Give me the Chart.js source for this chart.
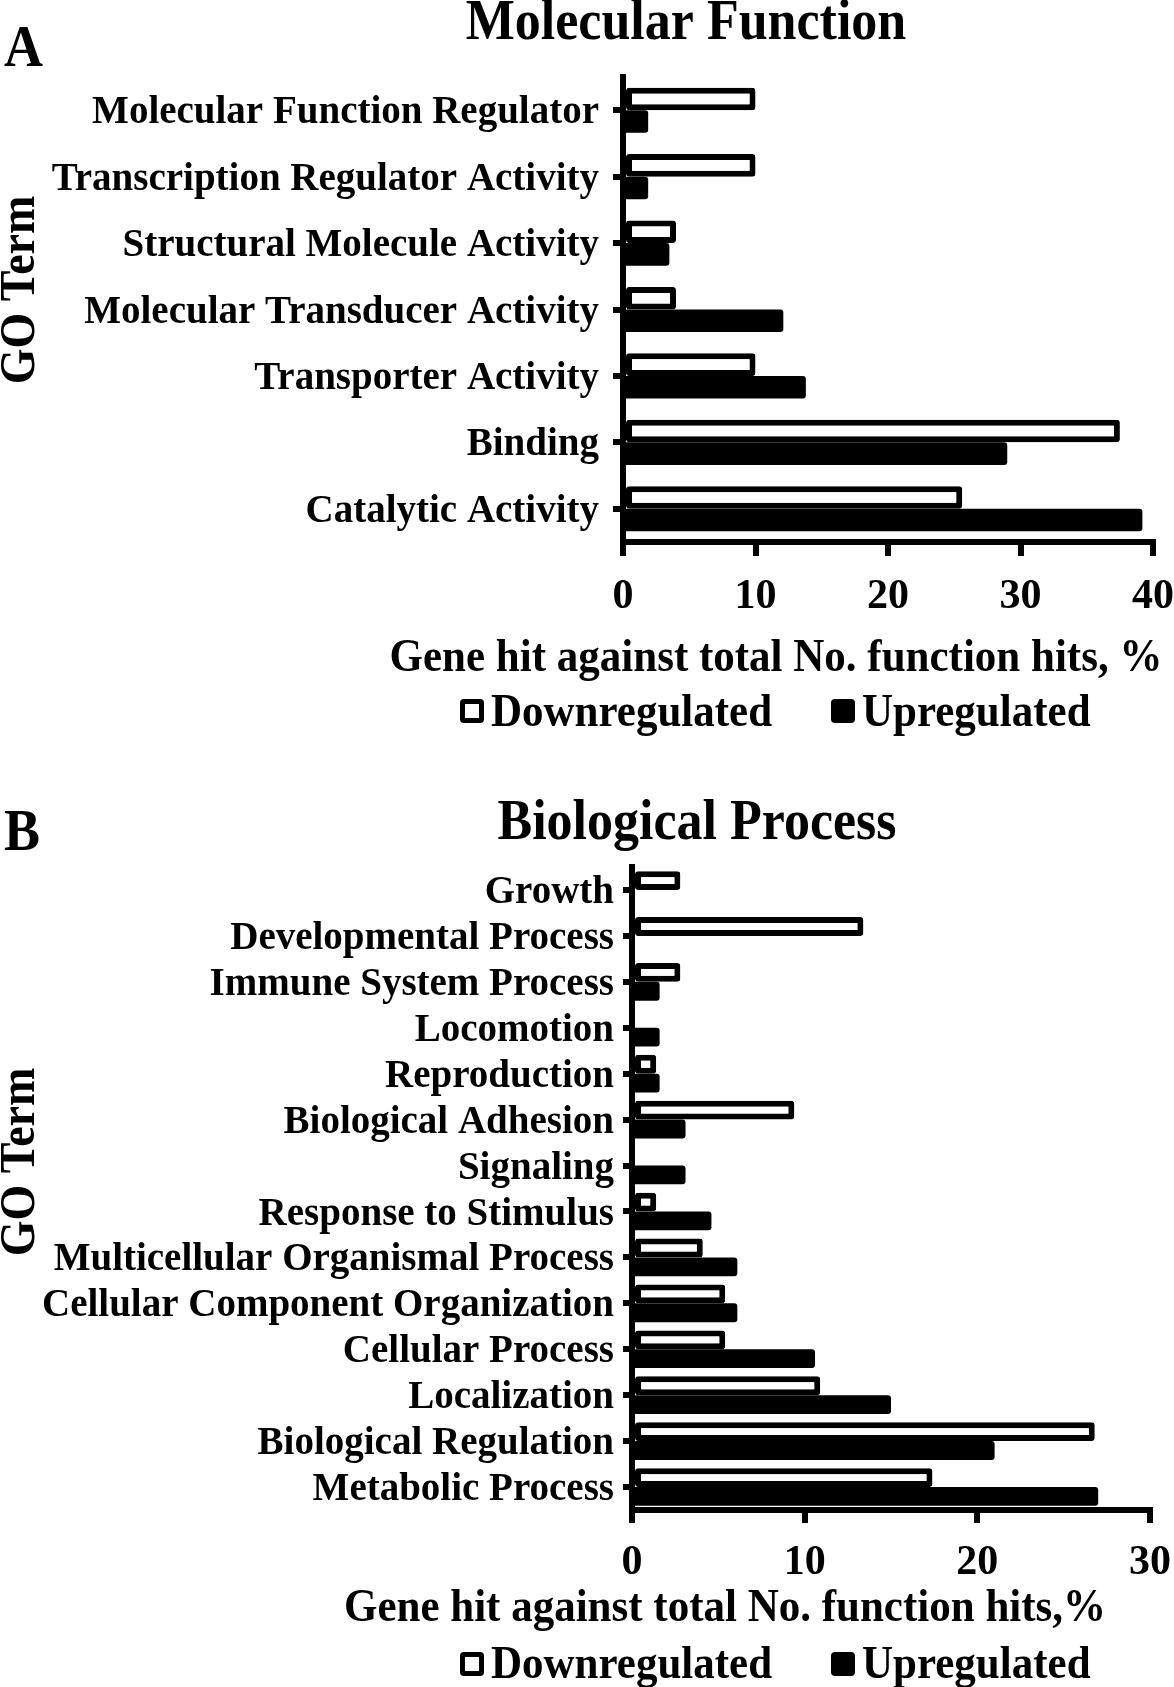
<!DOCTYPE html>
<html><head><meta charset="utf-8">
<script src="https://cdn.jsdelivr.net/npm/chart.js@4.4.0/dist/chart.umd.min.js"></script>
<style>
html,body{margin:0;padding:0;background:#fff;}
#wrap{position:relative;width:1174px;height:1687px;overflow:hidden;background:#fff;}
canvas{position:absolute;left:0;}
#cA{top:0;} #cB{top:760px;}
</style></head><body>
<div id="wrap"><canvas id="cA" width="1174" height="760"></canvas><canvas id="cB" width="1174" height="927"></canvas></div>
<script>
// ---------- data ----------
const seriesLabels = ['Downregulated', 'Upregulated'];

const mfCategories = ['Molecular Function Regulator', 'Transcription Regulator Activity', 'Structural Molecule Activity',
  'Molecular Transducer Activity', 'Transporter Activity', 'Binding', 'Catalytic Activity'];
const mfDown = [10.0, 10.0, 4.0, 4.0, 10.0, 37.5, 25.6];
const mfUp   = [1.9, 1.9, 3.5, 12.1, 13.8, 29.0, 39.2];
const mfTicks = [0, 10, 20, 30, 40];

const bpCategories = ['Growth', 'Developmental Process', 'Immune System Process', 'Locomotion', 'Reproduction',
  'Biological Adhesion', 'Signaling', 'Response to Stimulus', 'Multicellular Organismal Process',
  'Cellular Component Organization', 'Cellular Process', 'Localization', 'Biological Regulation', 'Metabolic Process'];
const bpDown = [2.8, 13.4, 2.8, 0, 1.4, 9.4, 0, 1.4, 4.1, 5.4, 5.4, 10.9, 26.8, 17.4];
const bpUp   = [0, 0, 1.6, 1.6, 1.6, 3.1, 3.1, 4.6, 6.1, 6.1, 10.6, 15.0, 21.0, 27.0];
const bpTicks = [0, 10, 20, 30];

// ---------- drawing ----------
const FONT = '"Liberation Serif", "Times New Roman", Times, serif';

function rrect(ctx, x, y, w, h, r) {
  ctx.beginPath();
  ctx.moveTo(x + r, y);
  ctx.lineTo(x + w - r, y); ctx.quadraticCurveTo(x + w, y, x + w, y + r);
  ctx.lineTo(x + w, y + h - r); ctx.quadraticCurveTo(x + w, y + h, x + w - r, y + h);
  ctx.lineTo(x + r, y + h); ctx.quadraticCurveTo(x, y + h, x, y + h - r);
  ctx.lineTo(x, y + r); ctx.quadraticCurveTo(x, y, x + r, y);
  ctx.closePath();
}

// draw text slightly stretched vertically, like the reference typesetting
function tallText(ctx, txt, x, y, sy) {
  ctx.save();
  ctx.translate(x, y);
  ctx.scale(1, sy);
  ctx.fillText(txt, 0, 0);
  ctx.restore();
}

const panelText = {
  id: 'panelText',
  afterDraw(chart, args, o) {
    const ctx = chart.ctx;
    const sy = o.stretch;
    ctx.save();
    ctx.fillStyle = '#000';
    ctx.textBaseline = 'alphabetic';
    ctx.font = `bold ${o.letterSize}px ${FONT}`;
    ctx.textAlign = 'left';
    tallText(ctx, o.letter, o.letterX, o.letterY, sy);
    ctx.font = `bold ${o.titleSize}px ${FONT}`;
    ctx.textAlign = 'center';
    tallText(ctx, o.title, o.titleX, o.titleY, sy);
    ctx.font = `bold ${o.axisSize}px ${FONT}`;
    tallText(ctx, o.xTitle, o.xTitleX, o.xTitleY, sy);
    ctx.save();
    ctx.translate(o.yTitleX, o.yTitleY);
    ctx.rotate(-Math.PI / 2);
    ctx.font = `bold ${o.yTitleSize}px ${FONT}`;
    tallText(ctx, o.yTitle, 0, 0, sy);
    ctx.restore();
    ctx.font = `bold ${o.legendSize}px ${FONT}`;
    ctx.textAlign = 'left';
    chart.data.datasets.forEach((ds, i) => {
      const bx = o.legendX[i], by = o.legendBoxY, s = o.legendBox;
      ctx.fillStyle = '#000';
      rrect(ctx, bx, by, s, s, 4);
      ctx.fill();
      if (ds.backgroundColor === '#fff') {
        ctx.fillStyle = '#fff';
        ctx.fillRect(bx + 5, by + 5, s - 10, s - 10);
      }
      ctx.fillStyle = '#000';
      tallText(ctx, ds.label, bx + s + o.legendGap, o.legendTextY, sy);
    });
    ctx.restore();
  }
};

function makeChart(canvas, cats, down, up, ticks, xmax, cfg) {
  return new Chart(canvas, {
    type: 'bar',
    data: {
      labels: cats,
      datasets: [
        { label: seriesLabels[0], data: down, backgroundColor: '#fff', borderColor: '#000', borderWidth: 6,
          borderSkipped: false, borderRadius: 3, barPercentage: 1, categoryPercentage: cfg.cp },
        { label: seriesLabels[1], data: up, backgroundColor: '#000', borderColor: '#000', borderWidth: 0,
          borderRadius: 3, barPercentage: 1, categoryPercentage: cfg.cp }
      ]
    },
    options: {
      indexAxis: 'y', responsive: false, animation: false, devicePixelRatio: 1,
      layout: { padding: { top: cfg.top, right: cfg.right, bottom: cfg.bottom, left: 0 } },
      plugins: { legend: { display: false }, title: { display: false }, tooltip: { enabled: false }, panelText: cfg.text },
      scales: {
        x: {
          type: 'linear', min: 0, max: xmax,
          afterBuildTicks: s => { s.ticks = ticks.map(v => ({ value: v })); },
          afterFit: s => { s.height = cfg.xh; s.paddingLeft = 0; s.paddingRight = 0; },
          grid: { display: true, drawOnChartArea: false, drawTicks: true, tickLength: cfg.xtl, lineWidth: 6, tickWidth: 6, color: '#000' },
          border: { display: true, color: '#000', width: 6 },
          ticks: { font: { size: 42, weight: 'bold', family: FONT }, color: '#000', padding: cfg.xpad, maxRotation: 0, autoSkip: false }
        },
        y: {
          z: 1,
          afterFit: s => { s.width = cfg.yw; s.paddingTop = 0; s.paddingBottom = 0; },
          grid: { display: true, offset: false, drawOnChartArea: false, drawTicks: true, tickLength: cfg.ytl, lineWidth: 6, tickWidth: 6, color: '#000' },
          border: { display: true, color: '#000', width: 6 },
          ticks: { font: { size: 39, weight: 'bold', family: FONT }, color: '#000', padding: cfg.ypad, labelOffset: 3, autoSkip: false }
        }
      }
    },
    plugins: [panelText]
  });
}

makeChart(document.getElementById('cA'), mfCategories, mfDown, mfUp, mfTicks, 40, {
  cp: 0.68, top: 77, right: 21, bottom: 118, xh: 100, yw: 623, xtl: 14, xpad: 16, ytl: 10, ypad: 14,
  text: {
    stretch: 1.08,
    letter: 'A', letterSize: 54, letterX: 4, letterY: 66,
    title: 'Molecular Function', titleSize: 52, titleX: 686, titleY: 39,
    xTitle: 'Gene hit against total No. function hits, %', axisSize: 43, xTitleX: 776, xTitleY: 671,
    yTitle: 'GO Term', yTitleSize: 46, yTitleX: 34, yTitleY: 290,
    legendSize: 43, legendX: [460, 831], legendBoxY: 699, legendBox: 24, legendGap: 7, legendTextY: 726
  }
});

makeChart(document.getElementById('cB'), bpCategories, bpDown, bpUp, bpTicks, 30, {
  cp: 0.82, top: 107, right: 24, bottom: 77, xh: 100, yw: 632, xtl: 13, xpad: 15, ytl: 9, ypad: 9,
  text: {
    stretch: 1.08,
    letter: 'B', letterSize: 54, letterX: 4, letterY: 90,
    title: 'Biological Process', titleSize: 52, titleX: 697, titleY: 79,
    xTitle: 'Gene hit against total No. function hits,%', axisSize: 43, xTitleX: 725, xTitleY: 861,
    yTitle: 'GO Term', yTitleSize: 46, yTitleX: 34, yTitleY: 402,
    legendSize: 43, legendX: [460, 831], legendBoxY: 892, legendBox: 24, legendGap: 7, legendTextY: 918
  }
});
</script>
</body></html>
